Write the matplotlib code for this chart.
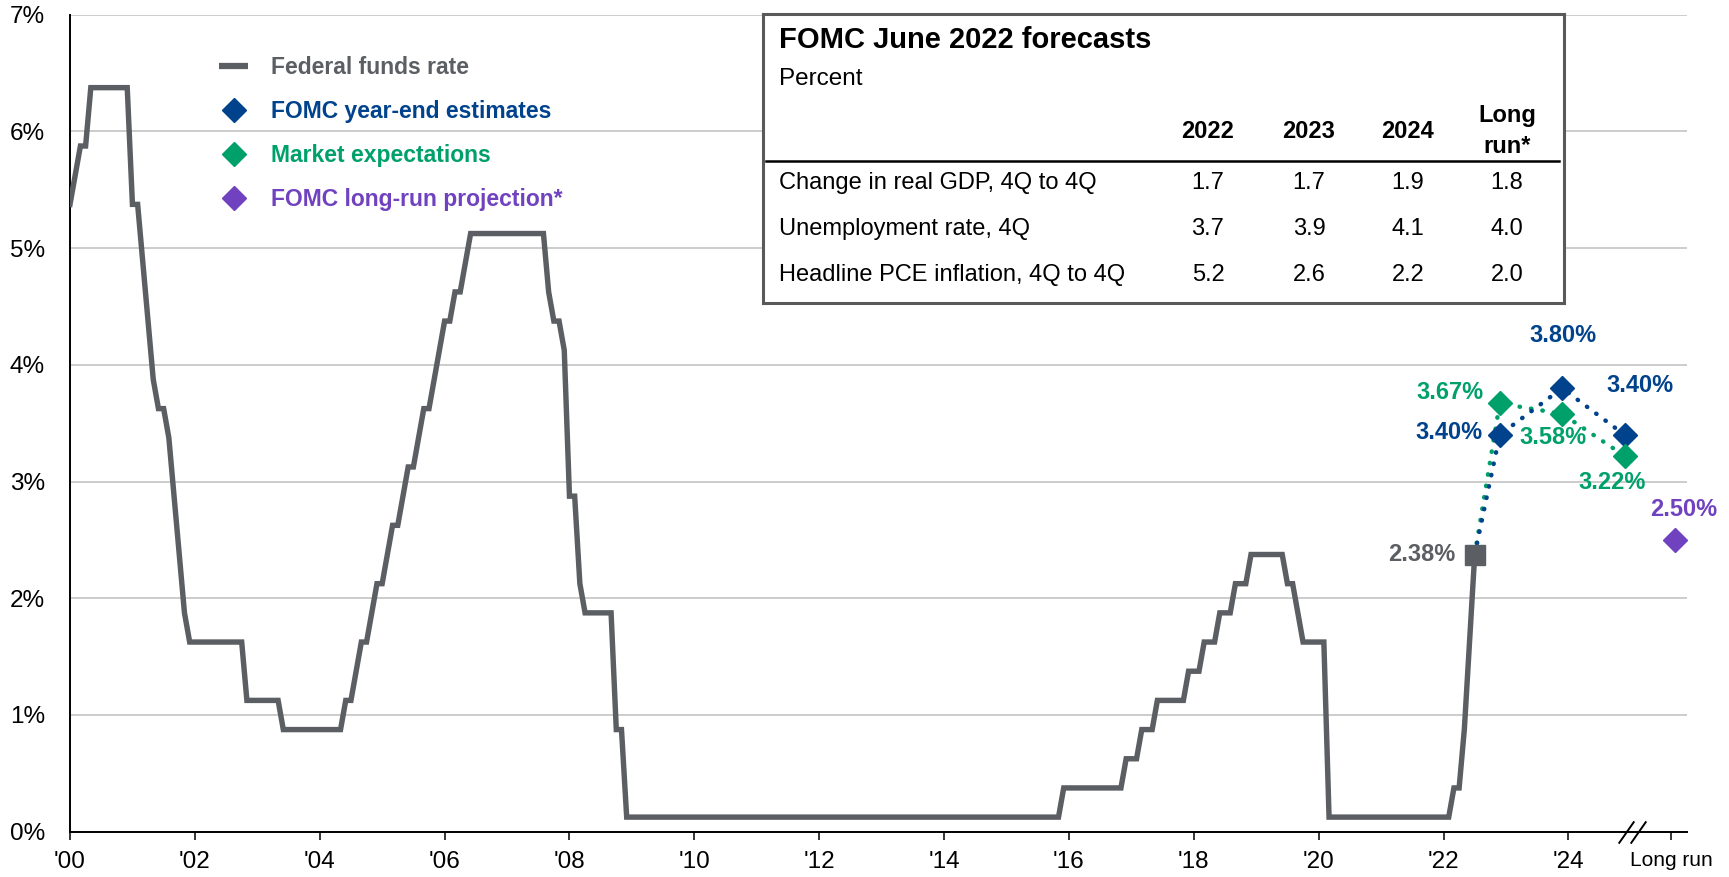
import matplotlib
matplotlib.use('Agg')
import matplotlib.pyplot as plt
from matplotlib.lines import Line2D

plt.rcParams['font.family'] = ['Liberation Sans', 'DejaVu Sans']

W, H = 1729, 877

GRAY = '#5b5e62'
NAVY = '#00428b'
GREEN = '#00a06b'
PURPLE = '#7042bf'

# Federal funds rate (monthly, vertices of the line)
fed_months = [
    '2000-01', '2000-02', '2000-03', '2000-04', '2000-05', '2000-12',
    '2001-01', '2001-02', '2001-03', '2001-04', '2001-05', '2001-06',
    '2001-07', '2001-08', '2001-09', '2001-10', '2001-11', '2001-12',
    '2002-10', '2002-11', '2003-05', '2003-06', '2004-05', '2004-06',
    '2004-07', '2004-08', '2004-09', '2004-10', '2004-11', '2004-12',
    '2005-01', '2005-02', '2005-03', '2005-04', '2005-05', '2005-06',
    '2005-07', '2005-08', '2005-09', '2005-10', '2005-11', '2005-12',
    '2006-01', '2006-02', '2006-03', '2006-04', '2006-05', '2006-06',
    '2007-08', '2007-09', '2007-10', '2007-11', '2007-12', '2008-01',
    '2008-02', '2008-03', '2008-04', '2008-09', '2008-10', '2008-11',
    '2008-12', '2015-11', '2015-12', '2016-11', '2016-12', '2017-02',
    '2017-03', '2017-05', '2017-06', '2017-11', '2017-12', '2018-02',
    '2018-03', '2018-05', '2018-06', '2018-08', '2018-09', '2018-11',
    '2018-12', '2019-06', '2019-07', '2019-08', '2019-09', '2019-10',
    '2020-02', '2020-03', '2022-02', '2022-03', '2022-04', '2022-05',
    '2022-06', '2022-07',
]
fed_rates = [
    5.375, 5.625, 5.875, 5.875, 6.375, 6.375,
    5.375, 5.375, 4.875, 4.375, 3.875, 3.625,
    3.625, 3.375, 2.875, 2.375, 1.875, 1.625,
    1.625, 1.125, 1.125, 0.875, 0.875, 1.125,
    1.125, 1.375, 1.625, 1.625, 1.875, 2.125,
    2.125, 2.375, 2.625, 2.625, 2.875, 3.125,
    3.125, 3.375, 3.625, 3.625, 3.875, 4.125,
    4.375, 4.375, 4.625, 4.625, 4.875, 5.125,
    5.125, 4.625, 4.375, 4.375, 4.125, 2.875,
    2.875, 2.125, 1.875, 1.875, 0.875, 0.875,
    0.125, 0.125, 0.375, 0.375, 0.625, 0.625,
    0.875, 0.875, 1.125, 1.125, 1.375, 1.375,
    1.625, 1.625, 1.875, 1.875, 2.125, 2.125,
    2.375, 2.375, 2.125, 2.125, 1.875, 1.625,
    1.625, 0.125, 0.125, 0.375, 0.375, 0.875,
    1.625, 2.375,
]

# Projections
forecast_x = [2022.9, 2023.9, 2024.9]
fomc_est = [3.40, 3.80, 3.40]
market_exp = [3.67, 3.58, 3.22]
long_run_x = 2025.7
long_run_val = 2.50

# Axis
year_ticks = [2000, 2002, 2004, 2006, 2008, 2010, 2012, 2014, 2016, 2018, 2020, 2022, 2024]
year_labels = ["'00", "'02", "'04", "'06", "'08", "'10", "'12", "'14", "'16", "'18", "'20", "'22", "'24"]
long_run_tick = 2025.65
y_ticks = [0, 1, 2, 3, 4, 5, 6, 7]
y_labels = ['0%', '1%', '2%', '3%', '4%', '5%', '6%', '7%']

# Table
table_cols = ['2022', '2023', '2024', 'Long\nrun*']
table_rows = ['Change in real GDP, 4Q to 4Q', 'Unemployment rate, 4Q',
              'Headline PCE inflation, 4Q to 4Q']
table_vals = [['1.7', '1.7', '1.9', '1.8'],
              ['3.7', '3.9', '4.1', '4.0'],
              ['5.2', '2.6', '2.2', '2.0']]


def to_year(s):
    y, m = s.split('-')
    return int(y) + (int(m) - 1) / 12


fig = plt.figure(figsize=(W / 100, H / 100), dpi=100)
ax = fig.add_axes([70 / W, 1 - 831.7 / H, (1687 - 70) / W, (831.7 - 14.7) / H])
ax.set_xlim(2000, 2025.9)
ax.set_ylim(0, 7)

fed_x = [to_year(m) for m in fed_months]
start_x, start_y = fed_x[-1], fed_rates[-1]

# dotted projection paths
dot = dict(lw=3.2, linestyle=(0, (0.1, 2.5)), dash_capstyle='round', zorder=3)
ax.plot([start_x] + forecast_x, [start_y] + market_exp, color=GREEN, **dot)
ax.plot([start_x] + forecast_x, [start_y] + fomc_est, color=NAVY, **dot)

ax.plot(fed_x, fed_rates, color=GRAY, lw=3.9, solid_joinstyle='miter', zorder=4)
ax.plot([start_x], [start_y], marker='s', ms=15, color=GRAY, ls='none', zorder=5)
ax.plot(forecast_x, fomc_est, marker='D', ms=12, color=NAVY, ls='none', zorder=6)
ax.plot(forecast_x, market_exp, marker='D', ms=12, color=GREEN, ls='none', zorder=6)
ax.plot([long_run_x], [long_run_val], marker='D', ms=12, color=PURPLE, ls='none',
        zorder=6, clip_on=False)

# data labels
lab = dict(textcoords='offset pixels', fontsize=17, fontweight='bold',
           va='center', annotation_clip=False)
ax.annotate(f'{start_y:.2f}%', (start_x, start_y), xytext=(-19, 0), ha='right',
            color=GRAY, **lab)
ax.annotate(f'{fomc_est[0]:.2f}%', (forecast_x[0], fomc_est[0]), xytext=(-17, 2),
            ha='right', color=NAVY, **lab)
ax.annotate(f'{market_exp[0]:.2f}%', (forecast_x[0], market_exp[0]), xytext=(-16, 11),
            ha='right', color=GREEN, **lab)
ax.annotate(f'{fomc_est[1]:.2f}%', (forecast_x[1], fomc_est[1]), xytext=(1, 53),
            ha='center', color=NAVY, **lab)
ax.annotate(f'{fomc_est[2]:.2f}%', (forecast_x[2], fomc_est[2]), xytext=(15, 49),
            ha='center', color=NAVY, **lab)
ax.annotate(f'{market_exp[1]:.2f}%', (forecast_x[1], market_exp[1]), xytext=(-9, -24),
            ha='center', color=GREEN, **lab)
ax.annotate(f'{market_exp[2]:.2f}%', (forecast_x[2], market_exp[2]), xytext=(-12, -27),
            ha='center', color=GREEN, **lab)
ax.annotate(f'{long_run_val:.2f}%', (long_run_x, long_run_val), xytext=(9, 30),
            ha='center', color=PURPLE, **lab)

# axes styling
for side in ['top', 'right']:
    ax.spines[side].set_visible(False)
for side in ['left', 'bottom']:
    ax.spines[side].set_linewidth(1.4)
    ax.spines[side].set_color('black')
ax.set_yticks(y_ticks)
ax.set_yticklabels(y_labels)
ax.yaxis.grid(True, color='#c8c8c8', lw=1.3)
ax.set_axisbelow(True)
ax.tick_params(axis='y', length=0, pad=18, labelsize=17.5)
ax.set_xticks(year_ticks + [long_run_tick])
ax.set_xticklabels(year_labels + ['Long run'])
ax.tick_params(axis='x', length=6, width=1.1, pad=8, labelsize=17.5, direction='out')
ax.get_xticklabels()[-1].set_fontsize(15)

# axis break
brk = 2025.02
for dx in (-0.09, 0.09):
    ax.plot([brk + dx], [0], marker=[(-0.7, -1), (0.7, 1)], ms=16, mew=1.4,
            mec='black', mfc='none', ls='none', clip_on=False, zorder=7)

# legend
handles = [
    Line2D([], [], color=GRAY, lw=4.5, solid_capstyle='butt'),
    Line2D([], [], marker='D', ls='none', color=NAVY, ms=12.5),
    Line2D([], [], marker='D', ls='none', color=GREEN, ms=12.5),
    Line2D([], [], marker='D', ls='none', color=PURPLE, ms=12.5),
]
names = ['Federal funds rate', 'FOMC year-end estimates', 'Market expectations',
         'FOMC long-run projection*']
leg = ax.legend(handles, names, loc='upper left', bbox_to_anchor=(219 / W, 1 - 56 / H),
                bbox_transform=fig.transFigure, frameon=False, borderpad=0,
                borderaxespad=0, handlelength=1.27, handletextpad=1.0,
                labelspacing=0.92, prop={'weight': 'bold', 'size': 16.5},
                labelcolor=[GRAY, NAVY, GREEN, PURPLE])

# forecast table
tx = fig.add_axes([763 / W, 1 - 303 / H, (1564 - 763) / W, (303 - 14) / H], zorder=5)
tx.set_xlim(763, 1564)
tx.set_ylim(303, 14)
tx.set_xticks([])
tx.set_yticks([])
tx.set_facecolor('white')
for s in tx.spines.values():
    s.set_color('#595959')
    s.set_linewidth(2.2)

tx.text(779, 40, 'FOMC June 2022 forecasts', fontsize=21, fontweight='bold',
        va='center', ha='left')
tx.text(779, 79, 'Percent', fontsize=17.5, va='center', ha='left')
col_x = [1208, 1309, 1408, 1507]
row_y = [183, 229, 275]
for cx, name in zip(col_x, table_cols):
    tx.text(cx, 131, name, fontsize=17, fontweight='bold', ha='center', va='center',
            linespacing=1.4)
tx.plot([766, 1559], [161, 161], color='black', lw=1.8)
for ry, name, vals in zip(row_y, table_rows, table_vals):
    tx.text(779, ry, name, fontsize=17, ha='left', va='center')
    for cx, v in zip(col_x, vals):
        tx.text(cx, ry, v, fontsize=17, ha='center', va='center')

fig.savefig('out.png', dpi=100)
